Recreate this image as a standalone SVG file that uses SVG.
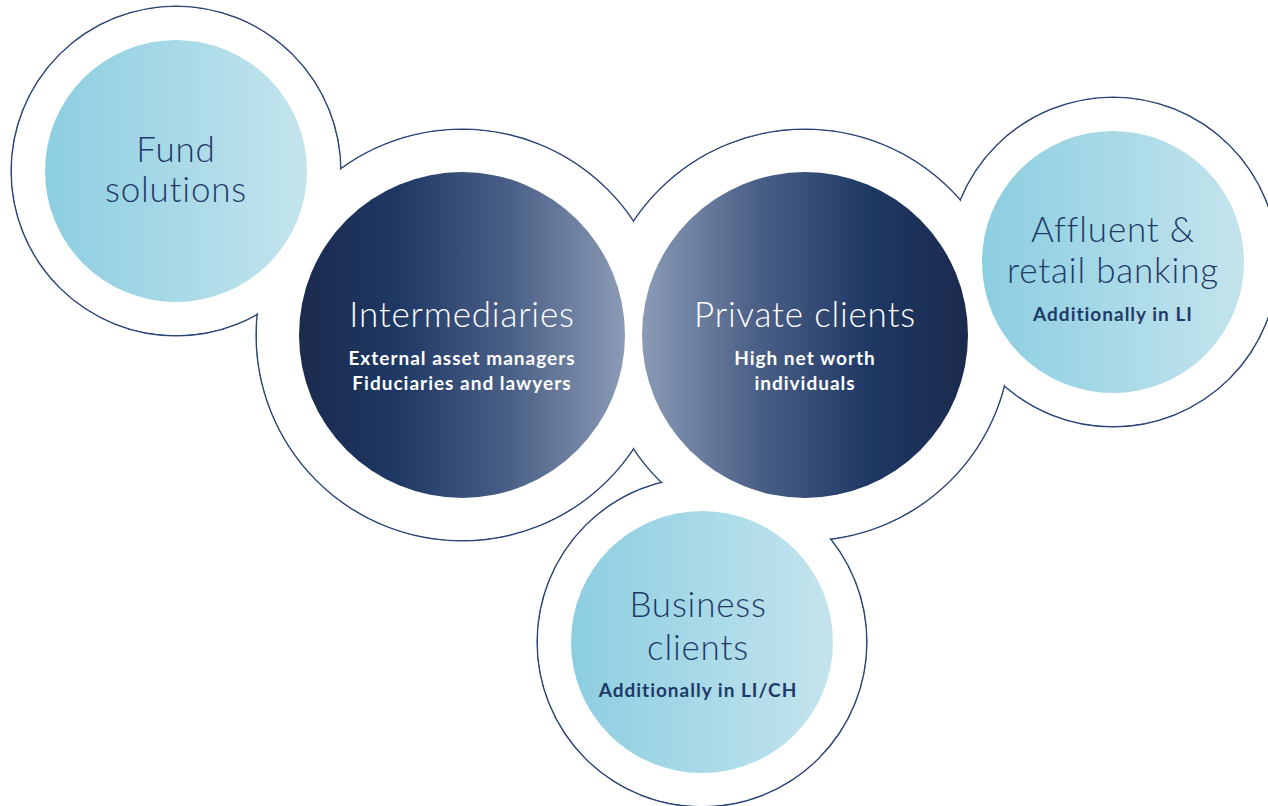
<svg xmlns="http://www.w3.org/2000/svg" width="1268" height="806" viewBox="0 0 1268 806">
  <defs>
    <linearGradient id="gLight" x1="0" y1="0" x2="1" y2="0">
      <stop offset="0" stop-color="#8ccee1"/>
      <stop offset="1" stop-color="#c4e4ed"/>
    </linearGradient>
    <linearGradient id="gDarkL" x1="0" y1="0" x2="1" y2="0">
      <stop offset="0" stop-color="#1b2a4d"/>
      <stop offset="0.3" stop-color="#1e3864"/>
      <stop offset="0.65" stop-color="#4b6087"/>
      <stop offset="1" stop-color="#8b9bb6"/>
    </linearGradient>
    <linearGradient id="gDarkR" x1="0" y1="0" x2="1" y2="0">
      <stop offset="0" stop-color="#8b9bb6"/>
      <stop offset="0.35" stop-color="#4b6087"/>
      <stop offset="0.7" stop-color="#1e3864"/>
      <stop offset="1" stop-color="#1b2a4d"/>
    </linearGradient>
    <style>
      .rim { fill: none; stroke: #2b4677; stroke-width: 1.6; }
      .pad { fill: #ffffff; }
      .title { font-family: Lato, "Open Sans", "Liberation Sans", sans-serif; font-weight: 300; font-size: 35px; letter-spacing: 0.8px; text-anchor: middle; }
      .sub { font-family: Lato, "Open Sans", "Liberation Sans", sans-serif; font-weight: 700; font-size: 19px; letter-spacing: 1px; text-anchor: middle; }
      .navy { fill: #1f3a68; }
      .white { fill: #ffffff; }
    </style>
  </defs>

  <rect width="1268" height="806" fill="#ffffff"/>

  <!-- outer contour: union of enlarged circles -->
  <g id="contour">
    <circle class="rim" cx="176" cy="171" r="164.8"/>
    <circle class="rim" cx="462" cy="335" r="205.8"/>
    <circle class="rim" cx="805" cy="335" r="205.8"/>
    <circle class="rim" cx="1113" cy="262" r="164.8"/>
    <circle class="rim" cx="702" cy="642" r="164.8"/>
    <circle class="pad" cx="176" cy="171" r="164"/>
    <circle class="pad" cx="462" cy="335" r="205"/>
    <circle class="pad" cx="805" cy="335" r="205"/>
    <circle class="pad" cx="1113" cy="262" r="164"/>
    <circle class="pad" cx="702" cy="642" r="164"/>
  </g>

  <g id="fund-solutions">
    <circle cx="176" cy="171" r="131" fill="url(#gLight)"/>
    <text class="title navy" x="176" y="162">Fund</text>
    <text class="title navy" x="176" y="202">solutions</text>
  </g>

  <g id="intermediaries">
    <circle cx="462" cy="335" r="163" fill="url(#gDarkL)"/>
    <text class="title white" x="462" y="327">Intermediaries</text>
    <text class="sub white" x="462" y="365">External asset managers</text>
    <text class="sub white" x="462" y="390">Fiduciaries and lawyers</text>
  </g>

  <g id="private-clients">
    <circle cx="805" cy="335" r="163" fill="url(#gDarkR)"/>
    <text class="title white" x="805" y="327">Private clients</text>
    <text class="sub white" x="805" y="365">High net worth</text>
    <text class="sub white" x="805" y="390">individuals</text>
  </g>

  <g id="affluent-retail">
    <circle cx="1113" cy="262" r="131" fill="url(#gLight)"/>
    <text class="title navy" x="1113" y="242">Affluent &amp;</text>
    <text class="title navy" x="1113" y="283">retail banking</text>
    <text class="sub navy" x="1113" y="321">Additionally in LI</text>
  </g>

  <g id="business-clients">
    <circle cx="702" cy="642" r="131" fill="url(#gLight)"/>
    <text class="title navy" x="698" y="617">Business</text>
    <text class="title navy" x="698" y="660">clients</text>
    <text class="sub navy" x="698" y="697">Additionally in LI/CH</text>
  </g>
</svg>
